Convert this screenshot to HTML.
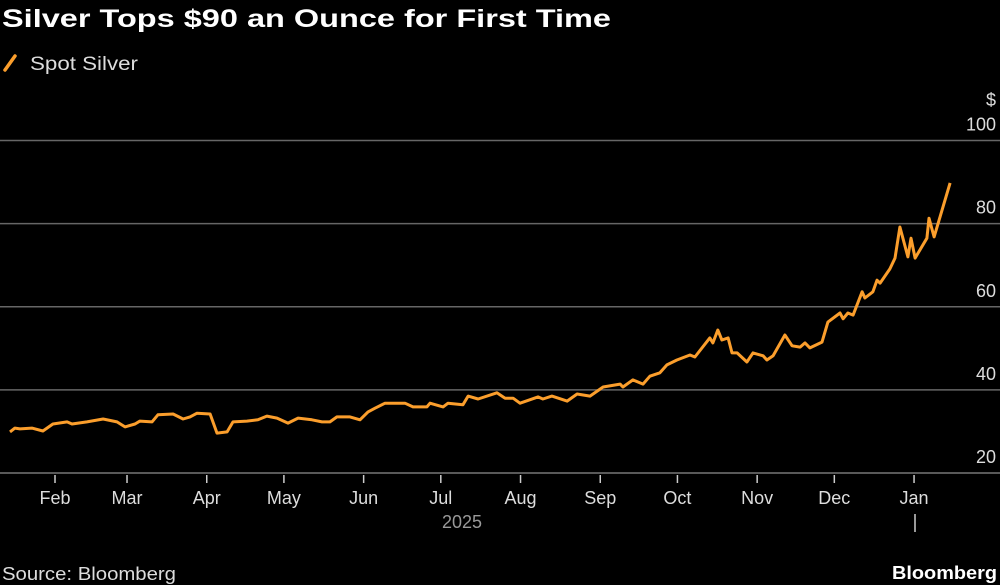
<!DOCTYPE html>
<html><head><meta charset="utf-8"><style>
html,body{margin:0;padding:0;background:#000;width:1000px;height:585px;overflow:hidden}
svg{display:block;font-family:"Liberation Sans","DejaVu Sans",sans-serif}
</style></head><body>
<svg id="chart" width="1000" height="585" viewBox="0 0 1000 585">
<text x="2" y="27" fill="#fff" font-size="25" font-weight="bold" textLength="609" lengthAdjust="spacingAndGlyphs">Silver Tops $90 an Ounce for First Time</text>
<g>
<line x1="5" y1="70" x2="15" y2="56" stroke="#fb9e2c" stroke-width="3.5" stroke-linecap="round"/>
<text x="30" y="70" fill="#ddd" font-size="19" textLength="108" lengthAdjust="spacingAndGlyphs">Spot Silver</text>
</g>
<text x="996" y="106" fill="#ddd" font-size="18" text-anchor="end">$</text>
<g id="grid"></g>
<g id="xaxis"></g>
<path id="line" fill="none" stroke="#fb9e2c" stroke-width="3" stroke-linejoin="round"/>
<text x="462" y="528" fill="#999" font-size="18" text-anchor="middle">2025</text>
<line x1="915" y1="514" x2="915" y2="532" stroke="#ccc" stroke-width="1.5"/>
<text x="2" y="580" fill="#ddd" font-size="18" textLength="174" lengthAdjust="spacingAndGlyphs">Source: Bloomberg</text>
<text x="997" y="579" fill="#fff" font-size="18" font-weight="bold" text-anchor="end" textLength="105" lengthAdjust="spacingAndGlyphs">Bloomberg</text>
</svg>
<script>
const days=[13.5,15.4,17.4,22,26.3,30.2,35.7,37.6,43.4,49.7,55.1,58.2,62.1,64,68.7,71,76.9,80.8,83.5,86.2,91.3,94,97.9,100.2,105.6,109.9,113.4,117.3,121.6,125.5,130.9,134.8,137.9,140.6,145.7,149.6,152.7,155.4,159.3,167.1,170.2,175.6,176.8,181.9,183.8,189.6,191.6,195.5,202.8,206,209.1,211.8,218.8,220.7,224.2,230.1,234,239,244.1,250.7,251.8,255.7,259.6,262.3,266.2,268.9,272.8,277.9,279.8,285.6,286.8,288.7,290.3,292.7,294.2,296.2,300,302.4,306.3,307.8,310.2,314.8,317.6,320.7,322.6,324.5,329.2,331.5,336.2,337.4,339.3,341.3,344.8,345.9,349,350.6,351.8,355.6,357.6,359.5,362.6,363.8,365.4,370,370.8,372.8,379];
const prices=[29.9,30.8,30.6,30.8,30.1,31.8,32.3,31.8,32.3,33.0,32.3,31.1,31.8,32.5,32.3,34.0,34.2,33.0,33.5,34.4,34.2,29.6,29.9,32.3,32.5,32.8,33.7,33.2,32.0,33.2,32.8,32.3,32.3,33.5,33.5,32.8,34.7,35.6,36.8,36.8,35.9,35.9,36.8,35.9,36.8,36.4,38.5,37.8,39.3,38.0,38.0,36.8,38.3,37.8,38.5,37.3,39.0,38.5,40.7,41.4,40.7,42.4,41.4,43.3,44.1,46.0,47.2,48.4,47.9,52.5,51.3,54.4,52.0,52.5,48.9,48.9,46.7,48.9,48.2,47.2,48.2,53.2,50.6,50.3,51.3,50.1,51.5,56.3,58.5,57.1,58.5,58.0,63.6,62.1,63.6,66.4,65.7,69.1,71.7,79.2,72.0,76.5,71.7,76.5,81.3,76.8,89.8];
const yTicks=[20,40,60,80,100];
const monthLabels=["Feb","Mar","Apr","May","Jun","Jul","Aug","Sep","Oct","Nov","Dec","Jan"];
const monthDays=[31,59,90,120,151,181,212,243,273,304,334,365];
const NS="http://www.w3.org/2000/svg";
function xS(d){return 55+(d-31)*2.572;}
function yS(v){return 473-(v-20)*4.156;}
const grid=document.getElementById('grid');
yTicks.forEach(v=>{
  const l=document.createElementNS(NS,'line');
  l.setAttribute('x1',0);l.setAttribute('x2',1000);
  l.setAttribute('y1',yS(v));l.setAttribute('y2',yS(v));
  l.setAttribute('stroke',v===20?'#777':'#666');l.setAttribute('stroke-width',1.5);
  
  
  grid.appendChild(l);
  const t=document.createElementNS(NS,'text');
  t.setAttribute('x',996);t.setAttribute('y',yS(v)-10);
  t.setAttribute('text-anchor','end');t.setAttribute('fill','#ddd');t.setAttribute('font-size','18');
  t.textContent=v;
  
  
  grid.appendChild(t);
});
const xa=document.getElementById('xaxis');
monthLabels.forEach((m,i)=>{
  const x=xS(monthDays[i]);
  const l=document.createElementNS(NS,'line');
  l.setAttribute('x1',x);l.setAttribute('x2',x);l.setAttribute('y1',475);l.setAttribute('y2',483);
  l.setAttribute('stroke','#ccc');l.setAttribute('stroke-width',1.5);
  
  
  xa.appendChild(l);
  const t=document.createElementNS(NS,'text');
  t.setAttribute('x',x);t.setAttribute('y',504);t.setAttribute('text-anchor','middle');
  t.setAttribute('fill','#ddd');t.setAttribute('font-size','18');
  t.textContent=m;
  
  
  xa.appendChild(t);
});
document.getElementById('line').setAttribute('d',days.map((d,i)=>(i?'L':'M')+xS(d).toFixed(1)+','+yS(prices[i]).toFixed(1)).join(''));
</script>
</body></html>
